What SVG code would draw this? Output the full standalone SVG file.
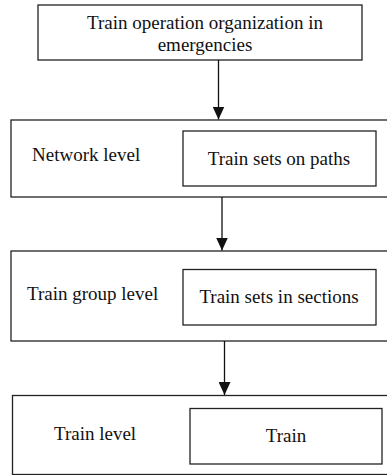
<svg xmlns="http://www.w3.org/2000/svg" width="387" height="475" viewBox="0 0 387 475">
<style>
.box{fill:#fff;stroke:#222;stroke-width:1.3}
.t{font-family:"Liberation Serif","Times New Roman",serif;font-size:19px;fill:#111}
.c{stroke:#111;stroke-width:1.3;fill:none}
</style>
<defs>
<marker id="ah" markerWidth="13" markerHeight="12" refX="13" refY="6" orient="auto" markerUnits="userSpaceOnUse">
<path d="M0,0 L13,6 L0,12 Z" fill="#111"/>
</marker>
</defs>
<rect width="387" height="475" fill="#fff"/>
<g id="top">
<rect class="box" x="38" y="5" width="324" height="55"/>
<text class="t" x="205" y="29" text-anchor="middle">Train operation organization in</text>
<text class="t" x="205" y="51" text-anchor="middle">emergencies</text>
</g>
<g id="network">
<rect class="box" x="11" y="120" width="384" height="77"/>
<text class="t" x="32" y="161">Network level</text>
<rect class="box" x="183" y="131" width="193" height="55"/>
<text class="t" x="279" y="165" text-anchor="middle">Train sets on paths</text>
</g>
<g id="group">
<rect class="box" x="11" y="251" width="384" height="90"/>
<text class="t" x="27" y="300">Train group level</text>
<rect class="box" x="183" y="269.5" width="193" height="55.5"/>
<text class="t" x="279" y="303" text-anchor="middle">Train sets in sections</text>
</g>
<g id="train">
<rect class="box" x="12.5" y="395.5" width="384" height="79"/>
<text class="t" x="54" y="440">Train level</text>
<rect class="box" x="190" y="408.5" width="192" height="55.5"/>
<text class="t" x="286" y="442" text-anchor="middle">Train</text>
</g>
<g id="connectors">
<line class="c" x1="218.5" y1="60" x2="218.5" y2="119.5" marker-end="url(#ah)"/>
<line class="c" x1="222" y1="197" x2="222" y2="250.5" marker-end="url(#ah)"/>
<line class="c" x1="224.5" y1="341" x2="224.5" y2="395" marker-end="url(#ah)"/>
</g>
</svg>
